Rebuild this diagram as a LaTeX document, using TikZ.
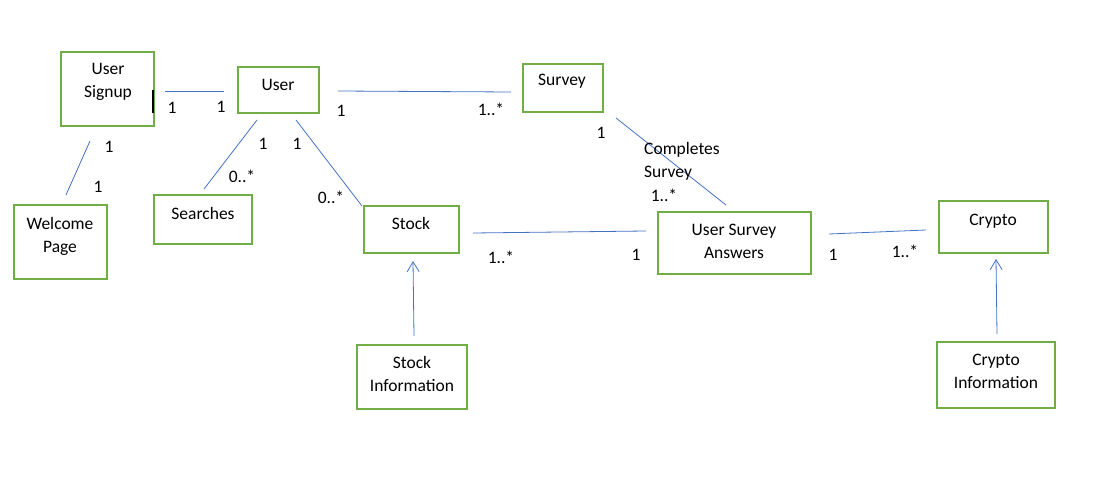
\documentclass[tikz,border=0pt]{standalone}
\usepackage{fontspec}
\setmainfont{Carlito}
\usetikzlibrary{arrows.meta}
\definecolor{boxgreen}{HTML}{70AD47}
\definecolor{linkblue}{HTML}{4472C4}
\tikzset{
  box/.style={draw=boxgreen, line width=2pt, inner sep=0pt},
  lbl/.style={font=\fontsize{17.5}{23}\selectfont, align=center, inner sep=0pt, text=black},
  mult/.style={font=\fontsize{17.5}{20}\selectfont, inner sep=0pt, text=black},
  link/.style={draw=linkblue, line width=0.8pt},
  gen/.style={link, -{Straight Barb[length=10pt,width=12pt,line width=0.8pt]}}
}
\begin{document}
\begin{tikzpicture}[x=1pt,y=-1pt]
\useasboundingbox (0,0) rectangle (1111,500);
% boxes
\node[box, minimum width=93, minimum height=74] (signup) at (107.5,89) {};
\node[box, minimum width=81, minimum height=46] (user) at (278.5,90) {};
\node[box, minimum width=80, minimum height=48] (survey) at (563,88) {};
\node[box, minimum width=93, minimum height=74] (welcome) at (60.5,242) {};
\node[box, minimum width=98, minimum height=49] (searches) at (203,219.5) {};
\node[box, minimum width=95, minimum height=47] (stock) at (411.5,229.5) {};
\node[box, minimum width=153, minimum height=62] (usa) at (734.5,243) {};
\node[box, minimum width=109, minimum height=52] (crypto) at (993.5,227) {};
\node[box, minimum width=110, minimum height=64] (stockinfo) at (412,377) {};
\node[box, minimum width=118, minimum height=66] (cryptoinfo) at (996,375) {};
% box texts
\node[lbl] (tsignup) at (108,81.5) {User\\Signup};
\node[lbl] (tuser) at (278,85) {User};
\node[lbl] (tsurvey) at (562,81) {Survey};
\node[lbl] (twelcome) at (60,236.5) {Welcome\\Page};
\node[lbl] (tsearches) at (203,213) {Searches};
\node[lbl] (tstock) at (411,223) {Stock};
\node[lbl] (tusa) at (734,241.5) {User Survey\\Answers};
\node[lbl] (tcrypto) at (993,221) {Crypto};
\node[lbl] (tstockinfo) at (412,373.5) {Stock\\Information};
\node[lbl] (tcryptoinfo) at (996,371.5) {Crypto\\Information};
% connector end points
\coordinate (a1) at (165,91); \coordinate (a2) at (224,91);
\coordinate (b1) at (338,91); \coordinate (b2) at (511,92);
\coordinate (c1) at (90,141); \coordinate (c2) at (66,195);
\coordinate (d1) at (257,120); \coordinate (d2) at (204,189);
\coordinate (e1) at (296,120); \coordinate (e2) at (362,206);
\coordinate (f1) at (616,118); \coordinate (f2) at (726,205);
\coordinate (g1) at (473,233); \coordinate (g2) at (646,231);
\coordinate (h1) at (829,234); \coordinate (h2) at (926,230);
\coordinate (i1) at (414,336); \coordinate (i2) at (413,261);
\coordinate (j1) at (997,334); \coordinate (j2) at (996,259);
\coordinate (k1) at (153,90); \coordinate (k2) at (153,113);
% connectors
\draw[link] (a1) -- (a2);
\draw[link] (b1) -- (b2);
\draw[link] (c1) -- (c2);
\draw[link] (d1) -- (d2);
\draw[link] (e1) -- (e2);
\draw[link] (f1) -- (f2);
\draw[link] (g1) -- (g2);
\draw[link] (h1) -- (h2);
\draw[gen] (i1) -- (i2);
\draw[gen] (j1) -- (j2);
\draw[black, line width=1.2pt] (k1) -- (k2);
% multiplicities
\node[mult] (m1) at (172,108) {1};
\node[mult] (m2) at (221,107) {1};
\node[mult] (m3) at (341,111) {1};
\node[mult] (m4) at (491,109) {1..*};
\node[mult] (m5) at (109,147) {1};
\node[mult] (m6) at (98,187) {1};
\node[mult] (m7) at (263,144) {1};
\node[mult] (m8) at (242,176) {0..*};
\node[mult] (m9) at (297,144) {1};
\node[mult] (m10) at (331,197) {0..*};
\node[mult] (m11) at (601,133) {1};
\node[mult, align=left, anchor=north west, font=\fontsize{17.5}{23}\selectfont] (m12) at (644,142) {Completes\\Survey};
\node[mult] (m13) at (664,195) {1..*};
\node[mult] (m14) at (501,257) {1..*};
\node[mult] (m15) at (636,255) {1};
\node[mult] (m16) at (833,255) {1};
\node[mult] (m17) at (905,251) {1..*};
\end{tikzpicture}
\end{document}
